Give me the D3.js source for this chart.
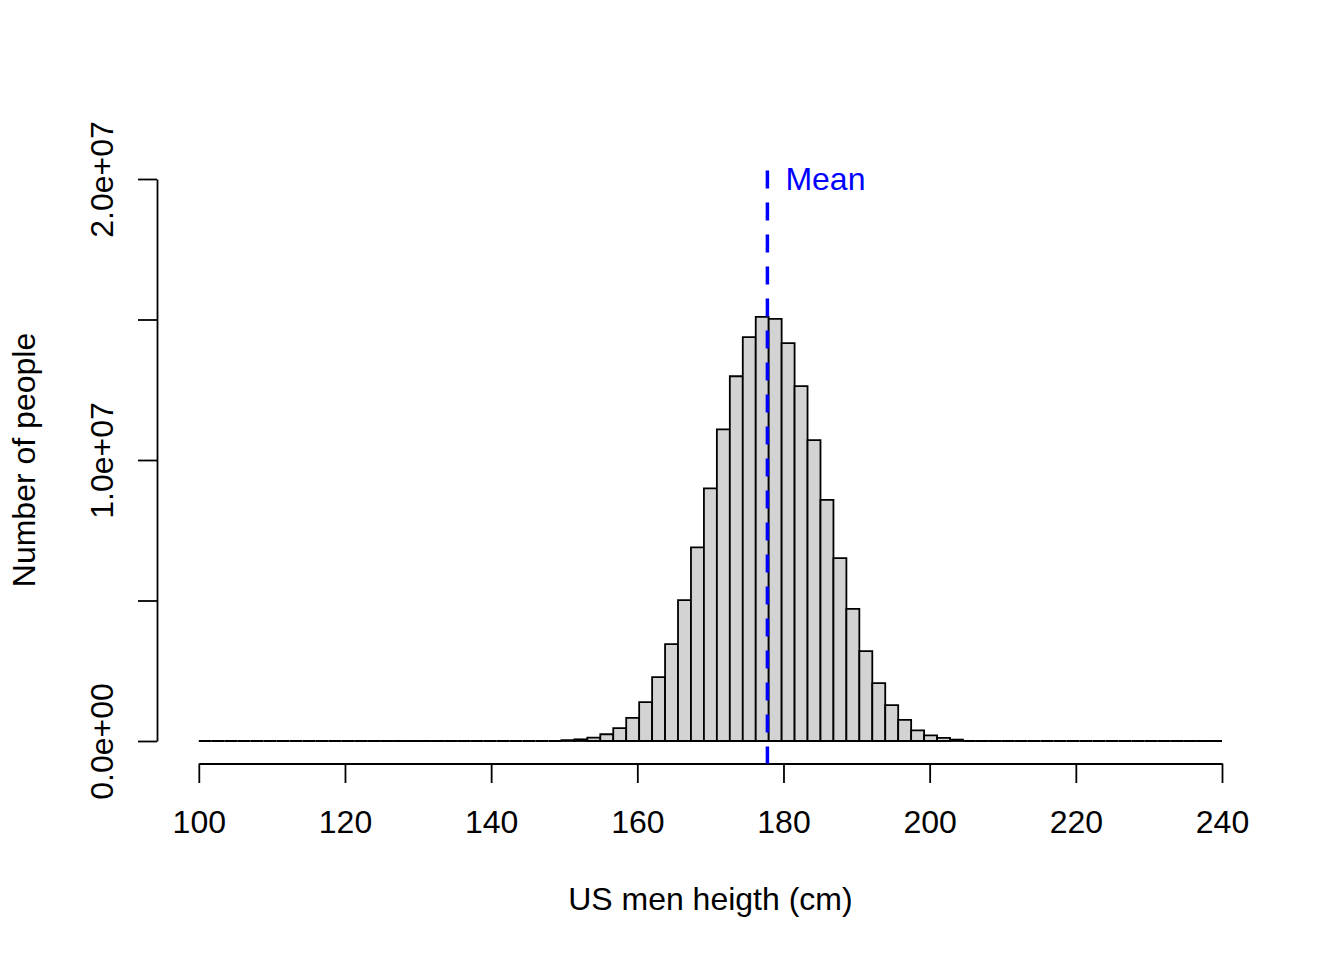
<!DOCTYPE html>
<html>
<head>
<meta charset="utf-8">
<title>US men height histogram</title>
<script src="https://cdn.jsdelivr.net/npm/d3@7"></script>
<style>
body { margin: 0; background: #fff; }
svg { display: block; font-family: 'Liberation Sans', Arial, sans-serif; }
.axis path, .axis line { stroke: #000; stroke-width: 1.8; }
.axis text { font-size: 32px; fill: #000; }
.bar { fill: #d3d3d3; stroke: #000; stroke-width: 1.8; }
</style>
</head>
<body>
<svg id="chart"></svg>
<script>

var width = 1344,
    height = 960;

// histogram: 79 equal bins between 100 and 240 cm
var binFrom = 100,
    binTo = 240,
    binCount = 79;

// counts per bin (number of people)
var counts = [
  0, 0, 0, 0, 0, 0, 0, 0, 0, 0,
  0, 0, 0, 0, 0, 0, 0, 0, 0, 0,
  0, 0, 0, 0, 0, 0, 0, 0,
  30000, 60000, 120000, 240000, 460000, 820000, 1380000, 2270000,
  3450000, 5010000, 6890000, 8990000, 11090000, 12980000, 14370000, 15090000,
  15020000, 14160000, 12630000, 10710000, 8580000, 6510000, 4700000, 3200000,
  2060000, 1280000, 750000, 380000, 200000, 110000, 50000,
  0, 0, 0, 0, 0, 0, 0, 0, 0, 0,
  0, 0, 0, 0, 0, 0, 0, 0, 0, 0
];

var meanHeight = 177.8;

var xTicks = [100, 120, 140, 160, 180, 200, 220, 240];
var yTicks = [0, 5e6, 1e7, 1.5e7, 2e7];
var yTickLabels = ["0.0e+00", "", "1.0e+07", "", "2.0e+07"];

var xTitle = "US men heigth (cm)",
    yTitle = "Number of people",
    meanLabel = "Mean";

// scales (plot region is 157..1263 x 156.5..763.5)
var x = d3.scaleLinear().domain([binFrom, binTo]).range([198.8, 1222]);
var y = d3.scaleLinear().domain([0, 2e7]).range([741, 179]);
var plotTop = 156.5, plotBottom = 763.5, plotLeft = 157;

var svg = d3.select('#chart')
  .attr('width', width)
  .attr('height', height);

svg.append('rect')
  .attr('width', width)
  .attr('height', height)
  .attr('fill', '#fff');

var binWidth = (binTo - binFrom) / binCount;

// bars as paths so that empty bins still show as a flat line
svg.append('g').selectAll('path')
    .data(counts)
  .enter().append('path')
    .attr('class', 'bar')
    .attr('d', function(d, i) {
      var x0 = x(binFrom + i * binWidth),
          x1 = x(binFrom + (i + 1) * binWidth);
      return 'M' + x0 + ',' + y(0) + 'V' + y(d) + 'H' + x1 + 'V' + y(0) + 'Z';
    });

// x axis
var xAxis = svg.append('g')
  .attr('class', 'axis')
  .attr('transform', 'translate(0,' + plotBottom + ')')
  .call(d3.axisBottom(x).tickValues(xTicks).tickSize(19.5).tickSizeOuter(0).tickFormat(d3.format('d')));
xAxis.selectAll('text')
  .attr('y', 69.8)
  .attr('dy', 0);

// y axis
var yAxis = svg.append('g')
  .attr('class', 'axis')
  .attr('transform', 'translate(' + plotLeft + ',0)')
  .call(d3.axisLeft(y).tickValues(yTicks).tickSize(19).tickSizeOuter(0)
    .tickFormat(function(d, i) { return yTickLabels[i]; }));
yAxis.selectAll('text')
  .attr('x', 0)
  .attr('dy', 0)
  .attr('text-anchor', 'middle')
  .attr('transform', 'translate(-44.5,0) rotate(-90)');

// axis titles
svg.append('text')
  .attr('x', (x(binFrom) + x(binTo)) / 2)
  .attr('y', 910)
  .attr('text-anchor', 'middle')
  .style('font-size', '32px')
  .text(xTitle);

svg.append('text')
  .attr('transform', 'translate(35,' + (plotTop + plotBottom) / 2 + ') rotate(-90)')
  .attr('text-anchor', 'middle')
  .style('font-size', '32px')
  .text(yTitle);

// mean line and label
svg.append('line')
  .attr('x1', x(meanHeight))
  .attr('x2', x(meanHeight))
  .attr('y1', plotTop)
  .attr('y2', plotBottom)
  .attr('stroke', '#0000ff')
  .attr('stroke-width', 3.5)
  .attr('stroke-dasharray', '18 14')
  .attr('stroke-dashoffset', 18);

svg.append('text')
  .attr('x', x(meanHeight) + 18)
  .attr('y', y(2e7) + 11)
  .attr('fill', '#0000ff')
  .style('font-size', '32px')
  .text(meanLabel);

</script>
</body>
</html>
